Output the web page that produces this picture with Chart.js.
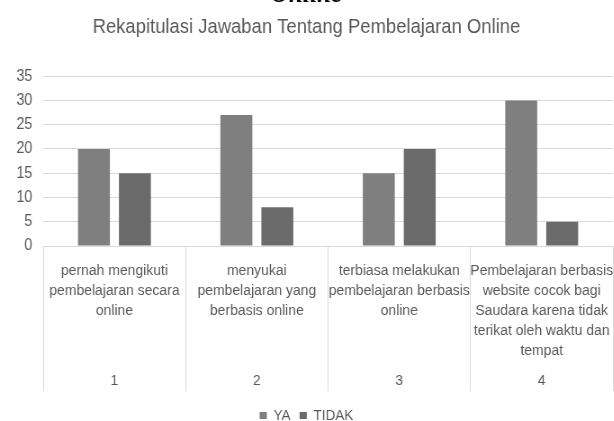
<!DOCTYPE html>
<html>
<head>
<meta charset="utf-8">
<script src="https://cdn.jsdelivr.net/npm/chart.js@4/dist/chart.umd.min.js"></script>
<style>
  html, body { margin: 0; padding: 0; background: #fff; overflow: hidden; }
  #wrap { position: relative; width: 614px; height: 421px; overflow: hidden; }
  /* teks di gambar asli agak sempit, jadi kanvas dipadatkan mendatar */
  #grafik { position: absolute; left: 0; top: -22px; transform: scaleX(0.9); transform-origin: 0 0; }
</style>
</head>
<body>
<div id="wrap"><canvas id="grafik" width="682" height="455"></canvas></div>
<script>
const pertanyaan = [
  ['pernah mengikuti', 'pembelajaran secara', 'online'],
  ['menyukai', 'pembelajaran yang', 'berbasis online'],
  ['terbiasa melakukan', 'pembelajaran berbasis', 'online'],
  ['Pembelajaran berbasis', 'website cocok bagi', 'Saudara karena tidak', 'terikat oleh waktu dan', 'tempat']
]
const nomor = ['1', '2', '3', '4']
const jawabanYa = [20, 27, 15, 30]
const jawabanTidak = [15, 8, 20, 5]
const tickY = [0, 5, 10, 15, 20, 25, 30, 35]

const huruf = "'Liberation Sans', Arial, sans-serif"
const abu = '#595959'
const garis = '#d9d9d9'

new Chart(document.getElementById('grafik'), {
  type: 'bar',
  data: {
    labels: pertanyaan,
    datasets: [
      { label: 'YA', data: jawabanYa, backgroundColor: '#7f7f7f', xAxisID: 'x' },
      { label: 'TIDAK', data: jawabanTidak, backgroundColor: '#6b6b6b', xAxisID: 'x' }
    ]
  },
  options: {
    responsive: false,
    animation: false,
    categoryPercentage: 0.575,
    barPercentage: 0.78,
    layout: { padding: { left: 0, right: 1, top: 0, bottom: 0 } },
    plugins: {
      title: {
        display: true,
        text: 'Online',
        color: '#000',
        font: { family: "'Liberation Serif', serif", size: 28, weight: 'bold', style: 'italic' },
        padding: { top: 0, bottom: 0 }
      },
      subtitle: {
        display: true,
        text: 'Rekapitulasi Jawaban Tentang Pembelajaran Online',
        color: abu,
        font: { family: huruf, size: 20.5 },
        padding: { top: 3, bottom: 37 }
      },
      legend: {
        position: 'bottom',
        labels: {
          color: abu,
          font: { family: huruf, size: 15 },
          boxWidth: 8,
          boxHeight: 7,
          padding: 10
        }
      },
      tooltip: { enabled: false }
    },
    scales: {
      y: {
        min: 0,
        max: 35,
        afterBuildTicks: s => { s.ticks = tickY.map(v => ({ value: v })) },
        afterFit: s => { s.width = 48 },
        ticks: { color: abu, font: { family: huruf, size: 16 }, padding: 12 },
        grid: { color: garis, drawTicks: false },
        border: { display: false }
      },
      x: {
        position: 'bottom',
        weight: 0,
        afterFit: s => { s.height = 120 },
        ticks: {
          color: abu,
          font: { family: huruf, size: 15.5, lineHeight: 1.28 },
          padding: -130,
          autoSkip: false,
          maxRotation: 0,
          minRotation: 0
        },
        grid: { offset: true, drawOnChartArea: false, drawTicks: true, tickLength: 145, color: garis },
        border: { color: garis }
      },
      x2: {
        type: 'category',
        labels: nomor,
        position: 'bottom',
        weight: 1,
        afterFit: s => { s.height = 32 },
        ticks: { color: abu, font: { family: huruf, size: 15.5, lineHeight: 1.25 }, padding: 5 },
        grid: { display: false, drawTicks: false },
        border: { display: false }
      }
    }
  }
})
</script>
</body>
</html>
